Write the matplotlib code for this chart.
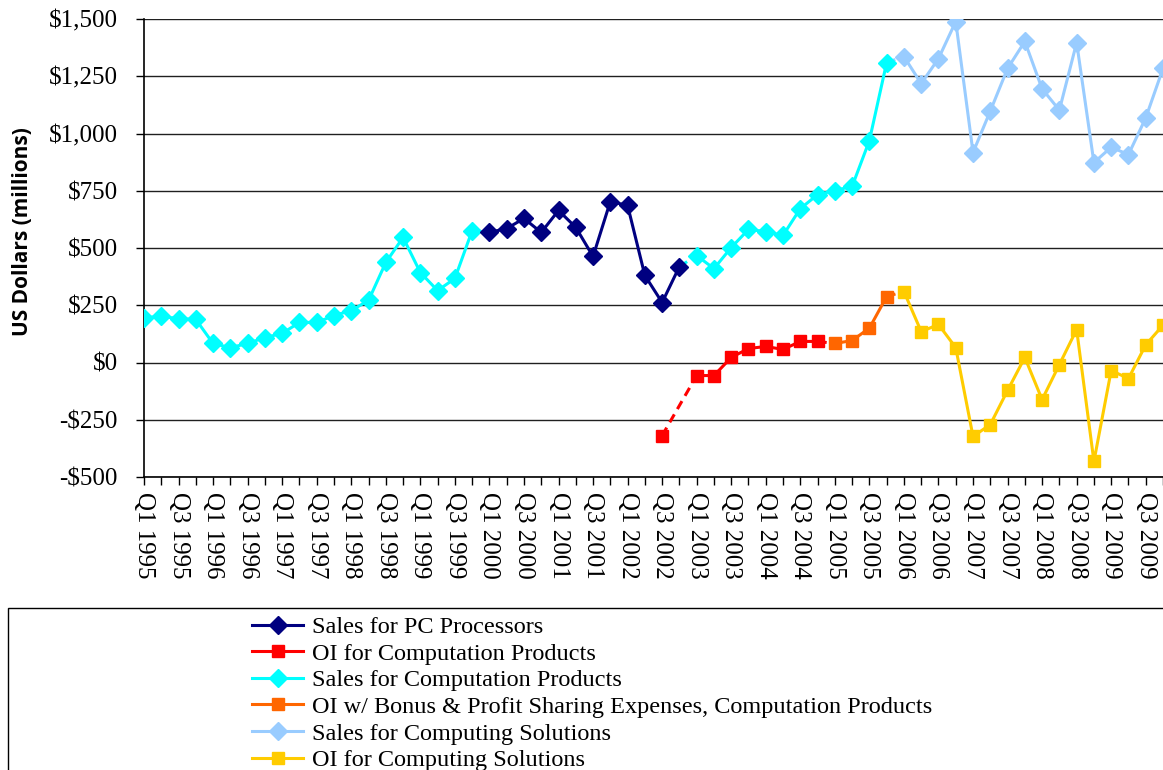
import numpy as np
import matplotlib
matplotlib.use('Agg')
import matplotlib.pyplot as plt
from matplotlib.patches import Rectangle
from matplotlib.lines import Line2D
from matplotlib.ticker import FuncFormatter

plt.rcParams['font.family'] = ['Liberation Serif', 'DejaVu Serif']

# ---- data (US$ millions), index 0 = Q1 1995 ----
years = list(range(1995, 2010))
quarters = [f"Q{q} {y}" for y in years for q in (1, 2, 3, 4)]

# Sales for Computation Products, Q1 1995 - Q4 1999
sales_cp_early = [196, 201, 192, 188, 83, 65, 83, 109, 127, 175,
                  175, 205, 227, 271, 437, 546, 393, 314, 367, 576]
# Sales for PC Processors, Q1 2000 - Q4 2002
sales_pc = [568, 585, 629, 568, 664, 590, 463, 703, 686, 380, 262, 419]
# Sales for Computation Products, Q1 2003 - Q4 2005
sales_cp_late = [467, 410, 502, 581, 572, 555, 672, 733, 751, 769, 969, 1310]
# Sales for Computing Solutions, Q1 2006 - Q4 2009
sales_cs = [1336, 1218, 1327, 1489, 917, 1098, 1284, 1402,
            1195, 1102, 1397, 873, 940, 908, 1068, 1284]
# OI for Computation Products, Q3 2002 - Q4 2004 (Q4 2002 missing)
oi_cp = [-319, np.nan, -57, -57, 22, 61, 70, 57, 92, 92]
# OI w/ Bonus & Profit Sharing Expenses, Q1 2005 - Q4 2005
oi_bonus = [83, 96, 150, 288]
# OI for Computing Solutions, Q1 2006 - Q4 2009
oi_cs = [310, 135, 166, 65, -323, -271, -122, 22,
         -162, -9, 144, -432, -35, -70, 77, 163]

start_cp_early, start_pc, start_cp_late, start_cs = 0, 20, 32, 44
start_oi_cp, start_bonus, start_oi_cs = 30, 40, 44

C_PC = '#000080'
C_OICP = '#FF0000'
C_CP = '#00FFFF'
C_BONUS = '#FF6600'
C_CS = '#99CCFF'
C_OICS = '#FFCC00'

W, H = 1163, 770
fig = plt.figure(figsize=(W / 100, H / 100), dpi=100)
ax = fig.add_axes([144 / W, (H - 477) / H, 1 - 144 / W, (477 - 19) / H])

lw = 2.2
dash = (0, (3, 2))
ms_d, ms_s = 9, 8.5


def xs(start, n):
    return np.arange(start, start + n)


def series(start, vals, color, marker, ms):
    ax.plot(xs(start, len(vals)), vals, color=color, lw=lw, marker=marker,
            ms=ms, mec=color, mfc=color, zorder=3)


# dashed joins between consecutive series
def join(x0, y0, x1, y1, color):
    ax.plot([x0, x1], [y0, y1], color=color, lw=lw, ls=dash, zorder=2)


join(start_pc - 1, sales_cp_early[-1], start_pc, sales_pc[0], '#0000FF')
join(start_cp_late - 1, sales_pc[-1], start_cp_late, sales_cp_late[0], C_CP)
join(start_cs - 1, sales_cp_late[-1], start_cs, sales_cs[0], C_CS)
join(start_oi_cp, oi_cp[0], start_oi_cp + 2, oi_cp[2], C_OICP)
join(start_bonus - 1, oi_cp[-1], start_bonus, oi_bonus[0], C_OICP)
join(start_oi_cs - 1, oi_bonus[-1], start_oi_cs, oi_cs[0], C_BONUS)

series(start_cp_early, sales_cp_early, C_CP, 'D', ms_d)
series(start_pc, sales_pc, C_PC, 'D', ms_d)
series(start_cp_late, sales_cp_late, C_CP, 'D', ms_d)
series(start_cs, sales_cs, C_CS, 'D', ms_d)
series(start_oi_cp, oi_cp, C_OICP, 's', ms_s)
series(start_bonus, oi_bonus, C_BONUS, 's', ms_s)
series(start_oi_cs, oi_cs, C_OICS, 's', ms_s)

ax.set_xlim(0, (W - 144) / 17.4)
ax.set_ylim(-500, 1500)
ax.set_yticks(np.arange(-500, 1501, 250))
ax.yaxis.set_major_formatter(FuncFormatter(
    lambda v, p: ('-' if v < 0 else '') + '${:,.0f}'.format(abs(v))))
ax.grid(axis='y', color='#202020', lw=1.0)
ax.set_axisbelow(True)

ax.set_xticks(range(len(quarters)))
ax.set_xticklabels([q if i % 2 == 0 else '' for i, q in enumerate(quarters)],
                   rotation=-90, va='top', ha='center')
ax.tick_params(axis='x', direction='out', length=6, width=1, labelsize=18, pad=5)
ax.tick_params(axis='y', direction='out', length=6, width=1, labelsize=18, pad=13)

for s in ('top', 'right'):
    ax.spines[s].set_visible(False)
for s in ('left', 'bottom'):
    ax.spines[s].set_color('black')
    ax.spines[s].set_linewidth(1.2)

fig.text(23 / W, 1 - 232 / H, 'US Dollars (millions)', rotation=90,
         ha='center', va='center', fontsize=15, fontweight='bold',
         family=['Open Sans', 'DejaVu Sans'])

# legend box, cut off at the figure edge like the source
fig.patches.append(Rectangle((8 / W, -0.2), 1.2, (H - 608) / H + 0.2,
                             transform=fig.transFigure, fill=False,
                             edgecolor='black', lw=1))

handles = [
    Line2D([], [], color=C_PC, lw=lw, marker='D', ms=ms_d),
    Line2D([], [], color=C_OICP, lw=lw, marker='s', ms=ms_s),
    Line2D([], [], color=C_CP, lw=lw, marker='D', ms=ms_d),
    Line2D([], [], color=C_BONUS, lw=lw, marker='s', ms=ms_s),
    Line2D([], [], color=C_CS, lw=lw, marker='D', ms=ms_d),
    Line2D([], [], color=C_OICS, lw=lw, marker='s', ms=ms_s),
]
labels = ['Sales for PC Processors',
          'OI for Computation Products',
          'Sales for Computation Products',
          'OI w/ Bonus & Profit Sharing Expenses, Computation Products',
          'Sales for Computing Solutions',
          'OI for Computing Solutions']
fig.legend(handles, labels, loc='upper left',
           bbox_to_anchor=(252 / W, 1 - 616 / H), frameon=False,
           fontsize=17.5, handlelength=2.1, handletextpad=0.35,
           labelspacing=0.19, borderpad=0, borderaxespad=0)

fig.savefig('out.png', dpi=100, facecolor='white')
